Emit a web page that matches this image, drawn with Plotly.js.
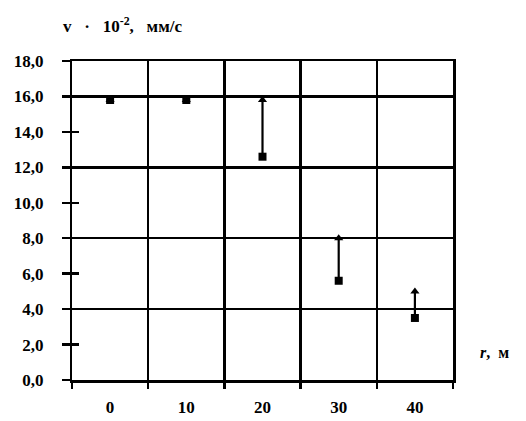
<!DOCTYPE html>
<html>
<head>
<meta charset="utf-8">
<script src="https://cdn.plot.ly/plotly-3.0.1.min.js"></script>
<style>html,body{margin:0;padding:0;background:#fff;}#chart{width:526px;height:421px;}</style>
</head>
<body>
<div id="chart"></div>
<script>
const distances = ["0", "10", "20", "30", "40"];
const upperValues = [15.8, 15.8, 15.8, 8.0, 5.0];
const lowerValues = [15.8, 15.8, 12.6, 5.6, 3.5];
const yTitle = "v\u00a0\u00a0\u00a0·\u00a0\u00a0\u00a010<sup>-2</sup>,\u00a0\u00a0\u00a0мм/с";
const xTitle = "<i>r</i>,\u00a0\u00a0м";

const diff = upperValues.map((u, i) => u - lowerValues[i]);
const zeros = lowerValues.map(() => 0);
const fam = "Liberation Serif, Times New Roman, serif";

function hiddenTrace(axis) {
  return {x: distances, y: lowerValues, type: "scatter", mode: "markers", yaxis: axis,
          marker: {size: 1, color: "rgba(0,0,0,0)"}, showlegend: false, hoverinfo: "skip"};
}

const traces = [
  {
    x: distances, y: lowerValues, type: "scatter", mode: "markers",
    marker: {symbol: "square", size: 8, color: "#000"},
    error_y: {type: "data", symmetric: false, array: diff, arrayminus: zeros, width: 0, thickness: 2.2, color: "#000"},
    showlegend: false, hoverinfo: "skip"
  },
  {
    x: distances, y: upperValues, type: "scatter", mode: "markers",
    marker: {symbol: "triangle-up", size: 8, color: "#000"},
    showlegend: false, hoverinfo: "skip"
  },
  hiddenTrace("y2"), hiddenTrace("y3"), hiddenTrace("y4")
];

const layout = {
  width: 526, height: 421,
  margin: {l: 72, r: 73, t: 61, b: 41},
  paper_bgcolor: "#fff", plot_bgcolor: "#fff",
  separators: ", ",
  font: {family: fam, size: 15, color: "#000"},
  xaxis: {
    type: "category", range: [-0.5, 4.5], tickson: "boundaries",
    showgrid: true, gridcolor: "#000", gridwidth: 2.5,
    showline: true, linecolor: "#000", linewidth: 2.5, mirror: true,
    ticks: "outside", ticklen: 6, tickwidth: 2.5, tickcolor: "#000",
    tickfont: {family: fam, size: 17, color: "#000", weight: "bold"},
    ticklabelstandoff: 10,
    zeroline: false, fixedrange: true
  },
  yaxis: {
    range: [0, 18], dtick: 4, tick0: 0,
    showgrid: true, gridcolor: "#000", gridwidth: 2.5,
    showline: true, linecolor: "#000", linewidth: 2.5, mirror: true,
    ticks: "", showticklabels: false,
    zeroline: false, fixedrange: true
  },
  yaxis2: {
    overlaying: "y", side: "left", range: [0, 18], dtick: 2, tick0: 0, tickformat: ".1f",
    showgrid: false, showline: false, showticklabels: true,
    ticks: "outside", ticklen: 24, tickwidth: 1, tickcolor: "rgba(0,0,0,0)",
    tickfont: {family: fam, size: 17, color: "#000", weight: "bold"},
    zeroline: false, fixedrange: true
  },
  yaxis3: {
    overlaying: "y", side: "left", range: [0, 18], dtick: 2, tick0: 0,
    showgrid: false, showline: false, showticklabels: false,
    ticks: "inside", ticklen: 7, tickwidth: 2.5, tickcolor: "#000",
    zeroline: false, fixedrange: true
  },
  yaxis4: {
    overlaying: "y", side: "left", range: [0, 18], dtick: 2, tick0: 0,
    showgrid: false, showline: false, showticklabels: false,
    ticks: "outside", ticklen: 9, tickwidth: 2.5, tickcolor: "#000",
    zeroline: false, fixedrange: true
  },
  annotations: [
    {text: yTitle, xref: "paper", yref: "paper", x: -0.03, y: 1.0, yshift: 36,
     xanchor: "left", yanchor: "middle", showarrow: false,
     font: {family: fam, size: 17, color: "#000", weight: "bold"}},
    {text: xTitle, xref: "paper", yref: "paper", x: 1.065, y: 0.085,
     xanchor: "left", yanchor: "middle", showarrow: false,
     font: {family: fam, size: 16, color: "#000", weight: "bold"}}
  ]
};

Plotly.newPlot("chart", traces, layout, {staticPlot: true, displayModeBar: false});
</script>
</body>
</html>
